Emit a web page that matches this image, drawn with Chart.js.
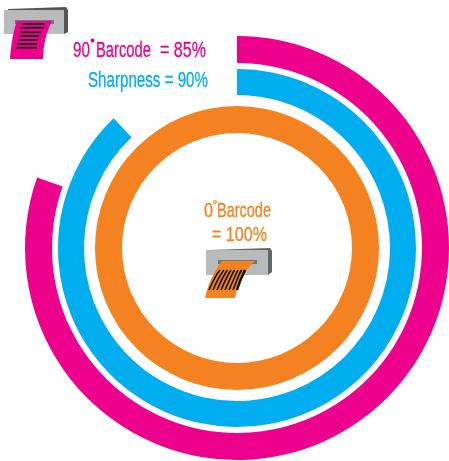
<!DOCTYPE html>
<html><head><meta charset="utf-8">
<style>
html,body{margin:0;padding:0;background:#fff;overflow:hidden}
#w{position:relative;width:449px;height:461px}
canvas{position:absolute;left:0;top:0}
svg{position:absolute;left:0;top:0}
text{font-family:"Liberation Sans",sans-serif;stroke-width:.3}
</style></head><body>
<div id="w"><canvas id="c" width="449" height="461"></canvas>
<svg width="449" height="461" viewBox="0 0 449 461">
  <!-- pink icon -->
  <polygon points="8,9 66,7 68,10 68,32 64,34 8,34" fill="#555"/>
  <rect x="4" y="10" width="60" height="24" fill="#b9babc"/>
  <rect x="15" y="20" width="39" height="4" fill="#777"/>
  <path d="M17,21 L52,21 C46,33 43,46 43,59 L10,59 C11,45 13,32 17,21Z" fill="#ec008c"/>
  <g stroke="#111" stroke-width="1.7">
    <line x1="22" y1="24" x2="45" y2="24"/><line x1="20" y1="27.700" x2="44" y2="27.700"/>
    <line x1="20" y1="32.300" x2="41" y2="32.300"/><line x1="19" y1="36" x2="39" y2="36"/>
    <line x1="18" y1="40" x2="38" y2="40"/><line x1="17" y1="44" x2="37" y2="44"/>
    <line x1="16" y1="47.700" x2="37" y2="47.700"/>
  </g>
  <!-- orange icon -->
  <polygon points="208,250 270,248 272,251 272,272 268,275 208,275" fill="#666"/>
  <rect x="206" y="250" width="62" height="25" fill="#b9babc"/>
  <rect x="218" y="260" width="39" height="4" fill="#777"/>
  <path d="M222,261 L255,261 C244,271 238,284 235,298 L205,298 C208,284 214,271 222,261Z" fill="#f58220"/>
  <g stroke="#111" stroke-width="1.600" fill="none">
    <path d="M220,270 C215,276 212,283 209,290"/><path d="M224,270 C219,276 216,283 213,290"/>
    <path d="M227.500,270 C223,276 220,283 217,290"/><path d="M231,270 C227,276 224,283 221,290"/>
    <path d="M234.500,270 C231,276 228,283 225,290"/><path d="M238,270 C235,276 232,283 229,290"/>
    <path d="M241.500,270 C238,276 236,283 233,290"/><path d="M245,270 C242,276 239,283 237,290" stroke-width="2.500"/>
  </g>
  <!-- labels -->
  <g font-size="22" fill="#ec008c" stroke="#ec008c">
    <text x="73" y="57" textLength="17" lengthAdjust="spacingAndGlyphs">90</text>
    <text x="96" y="57" textLength="55" lengthAdjust="spacingAndGlyphs">Barcode</text>
    <text x="160" y="57" textLength="46" lengthAdjust="spacingAndGlyphs">= 85%</text>
  </g>
  <circle cx="92.500" cy="40.500" r="2" fill="#ec008c"/>
  <g font-size="22" fill="#00aeef" stroke="#00aeef">
    <text x="88" y="87" textLength="120" lengthAdjust="spacingAndGlyphs">Sharpness = 90%</text>
  </g>
  <g font-size="21" fill="#f58220" stroke="#f58220">
    <text x="204" y="217" textLength="9" lengthAdjust="spacingAndGlyphs">0</text>
    <text x="217" y="217" textLength="54" lengthAdjust="spacingAndGlyphs">Barcode</text>
    <text x="212" y="241" textLength="55" lengthAdjust="spacingAndGlyphs">= 100%</text>
  </g>
  <circle cx="215" cy="202" r="1.500" fill="none" stroke="#f58220"/>
</svg></div>
<script src="https://cdn.jsdelivr.net/npm/chart.js@4"></script>
<script>
const seriesNames = ["90° Barcode", "Sharpness", "0° Barcode"];
const drawnPercent = [80.4, 87.9, 100];
const colours = ["#ec008c", "#00aeef", "#f58220"];
const ringWeights = [27, 26, 27];
const gapWeights = [6, 11];
const ring = i => ({
  label: seriesNames[i],
  data: [drawnPercent[i], 100 - drawnPercent[i]],
  backgroundColor: [colours[i], "rgba(0,0,0,0)"],
  borderWidth: 0,
  weight: ringWeights[i]
});
const gap = w => ({ label: "", data: [], weight: w, borderWidth: 0 });
new Chart(document.getElementById("c"), {
  type: "doughnut",
  data: {
    labels: ["Score", "Rest"],
    datasets: [ring(0), gap(gapWeights[0]), ring(1), gap(gapWeights[1]), ring(2)]
  },
  options: {
    responsive: false,
    animation: false,
    cutout: 115,
    layout: { padding: { left: 25, right: 0, top: 36, bottom: 1 } },
    plugins: { legend: { display: false }, tooltip: { enabled: false } }
  }
});
</script>
</body></html>
